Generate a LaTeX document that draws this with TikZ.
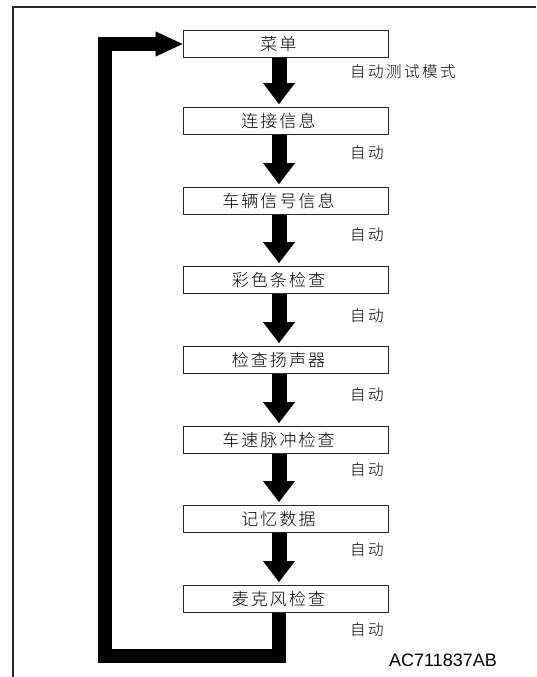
\documentclass[tikz,border=0pt]{standalone}
\usepackage{fontspec}
\setmainfont{Liberation Sans}
\newfontfamily\cjk[LetterSpace=12]{Noto Sans CJK SC Light}
\newfontfamily\cjklabel[LetterSpace=16]{Noto Sans CJK SC Light}
\usetikzlibrary{arrows.meta}

\begin{document}
\begin{tikzpicture}[x=1pt,y=-1pt,
  stepbox/.style={draw=black!85,line width=1pt,minimum width=205pt,minimum height=27pt,
    inner sep=0pt,font=\cjk\fontsize{17}{17}\selectfont},
  flow/.style={line width=15pt,-{Triangle[length=21pt,width=32pt,line width=0.1pt]},shorten >=3pt},
  backloop/.style={line width=14pt,line join=miter,-{Triangle[length=27pt,width=25pt,line width=0.1pt]}},
  autolabel/.style={anchor=west,inner sep=0pt,font=\cjklabel\fontsize{15.5}{15.5}\selectfont}]

\useasboundingbox (0,0) rectangle (536,677);
\draw[line width=1.5pt,black!85] (13,677) -- (13,7) -- (536,7);

\foreach \n/\y/\t in {1/44/菜单,2/121/连接信息,3/201/车辆信号信息,4/280/彩色条检查,
  5/360/检查扬声器,6/440/车速脉冲检查,7/519/记忆数据,8/599/麦克风检查}{
  \node[stepbox] (b\n) at (285.5,\y) {\t\hspace*{14pt}};
}

\foreach \a/\b in {1/2,2/3,3/4,4/5,5/6,6/7,7/8}{
  \draw[flow] ([xshift=-6.5pt]b\a.south) -- ([xshift=-6.5pt]b\b.north);
}

\coordinate (corner) at (105,656);
\draw[backloop] ([xshift=-6.5pt]b8.south) |- (corner) |- (b1.west);

\node[autolabel] (m1) at (350,72) {自动测试模式};
\foreach \n/\y in {2/153,3/235,4/316,5/395,6/470,7/550,8/630}{
  \node[autolabel] (m\n) at (350,\y) {自动};
}

\node[anchor=east,inner sep=0pt,font=\fontsize{18}{18}\selectfont] (code) at (497,660) {AC711837AB};

\end{tikzpicture}
\end{document}
